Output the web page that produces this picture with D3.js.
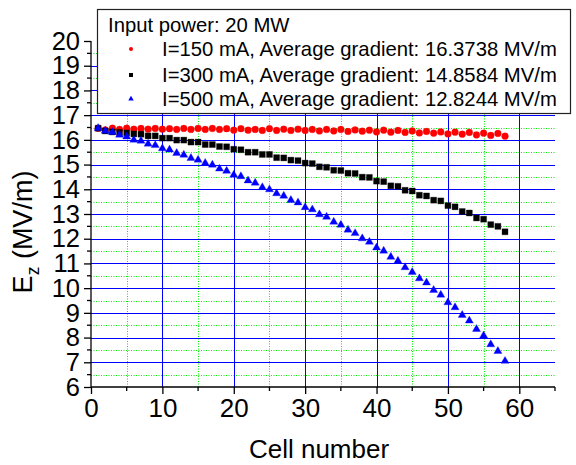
<!DOCTYPE html>
<html><head><meta charset="utf-8">
<script src="https://cdn.jsdelivr.net/npm/d3@7/dist/d3.min.js"></script>
<style>body{margin:0;background:#fff}svg{display:block}text{font-family:"Liberation Sans",Arial,sans-serif;fill:#000}</style>
</head><body><svg id="c" width="576" height="465"></svg>
<script>
const cells = [1,2,3,4,5,6,7,8,9,10,11,12,13,14,15,16,17,18,19,20,21,22,23,24,25,26,27,28,29,30,31,32,33,34,35,36,37,38,39,40,41,42,43,44,45,46,47,48,49,50,51,52,53,54,55,56,57,58];
const ez150 = [16.47,16.40,16.47,16.42,16.47,16.43,16.46,16.43,16.46,16.43,16.45,16.42,16.46,16.42,16.46,16.42,16.46,16.42,16.45,16.39,16.45,16.39,16.42,16.38,16.45,16.38,16.43,16.38,16.43,16.38,16.42,16.36,16.42,16.36,16.42,16.34,16.40,16.35,16.39,16.32,16.39,16.31,16.38,16.30,16.36,16.28,16.34,16.27,16.32,16.24,16.31,16.23,16.30,16.20,16.27,16.18,16.26,16.15];
const ez300 = [16.47,16.36,16.32,16.30,16.28,16.24,16.23,16.16,16.16,16.07,16.07,15.99,15.99,15.91,15.91,15.81,15.81,15.73,15.72,15.62,15.60,15.50,15.50,15.41,15.41,15.28,15.27,15.18,15.16,15.06,15.04,14.91,14.89,14.77,14.76,14.65,14.64,14.49,14.48,14.33,14.31,14.14,14.12,13.96,13.93,13.76,13.73,13.56,13.53,13.34,13.29,13.10,13.04,12.84,12.79,12.57,12.50,12.28];
const ez500 = [16.47,16.36,16.31,16.20,16.13,16.00,15.96,15.84,15.78,15.65,15.60,15.46,15.39,15.26,15.19,15.06,14.99,14.83,14.74,14.58,14.52,14.35,14.26,14.08,13.99,13.83,13.73,13.56,13.46,13.27,13.18,12.98,12.88,12.68,12.56,12.36,12.22,12.01,11.87,11.64,11.51,11.26,11.10,10.84,10.65,10.39,10.22,9.92,9.73,9.42,9.22,8.91,8.68,8.34,8.08,7.72,7.45,7.05];
const seriesLabels = ["I=150 mA, Average gradient: 16.3738 MV/m","I=300 mA, Average gradient: 14.8584 MV/m","I=500 mA, Average gradient: 12.8244 MV/m"];
const legendTitle = "Input power: 20 MW";
const xTicks = [0,10,20,30,40,50,60];
const yTicks = [6,7,8,9,10,11,12,13,14,15,16,17,18,19,20];
const xTitle = "Cell number";

const svg = d3.select("#c");
const x = d3.scaleLinear().domain([0,65]).range([91,555]);
const y = d3.scaleLinear().domain([6,20]).range([387,41]);

const grid = svg.append("g");
const xMinor = d3.range(5,65,10);
const yMinor = d3.range(6.5,20,1);
grid.selectAll(".vm").data(xMinor).join("line")
  .attr("x1",d=>Math.round(x(d))+0.5).attr("x2",d=>Math.round(x(d))+0.5)
  .attr("y1",y(6)).attr("y2",y(20))
  .attr("stroke","#00ee00").attr("stroke-width",1).attr("stroke-dasharray","1,1.5");
grid.selectAll(".hm").data(yMinor).join("line")
  .attr("y1",d=>Math.round(y(d))+0.5).attr("y2",d=>Math.round(y(d))+0.5)
  .attr("x1",x(0)).attr("x2",x(65))
  .attr("stroke","#00ee00").attr("stroke-width",1).attr("stroke-dasharray","1,1.5");
grid.selectAll(".vM").data(xTicks.filter(d=>d>0)).join("line")
  .attr("x1",d=>Math.round(x(d))+0.5).attr("x2",d=>Math.round(x(d))+0.5)
  .attr("y1",y(6)).attr("y2",y(20))
  .attr("stroke","#0000ff").attr("stroke-width",1);
grid.selectAll(".hM").data(yTicks.filter(d=>d>6 && d<20)).join("line")
  .attr("y1",d=>Math.round(y(d))+0.5).attr("y2",d=>Math.round(y(d))+0.5)
  .attr("x1",x(0)).attr("x2",x(65))
  .attr("stroke","#0000ff").attr("stroke-width",1);

// axes
const xAxis = d3.axisBottom(x).tickValues(xTicks).tickSize(7).tickPadding(5).tickFormat(d3.format("d"));
const gx = svg.append("g").attr("transform",`translate(0,${y(6)})`).call(xAxis);
gx.select(".domain").attr("d",`M${x(0)},0H${x(65)}`).attr("stroke","#000").attr("stroke-width",1.3);
gx.selectAll(".tick line").attr("stroke","#000").attr("stroke-width",1.3);
gx.selectAll("text").style("font-size","26px").attr("font-family",null);
const gxm = svg.append("g").attr("transform",`translate(0,${y(6)})`);
gxm.selectAll("line").data(d3.range(5,70,10)).join("line")
  .attr("x1",d=>x(d)).attr("x2",d=>x(d)).attr("y1",0).attr("y2",4).attr("stroke","#000").attr("stroke-width",1.3);

const yAxis = d3.axisLeft(y).tickValues(yTicks).tickSize(7).tickPadding(4).tickFormat(d3.format("d"));
const gy = svg.append("g").attr("transform",`translate(${x(0)},0)`).call(yAxis);
gy.select(".domain").attr("d",`M0,${y(6)}V${y(20)}`).attr("stroke","#000").attr("stroke-width",1.3);
gy.selectAll(".tick line").attr("stroke","#000").attr("stroke-width",1.3);
gy.selectAll("text").style("font-size","25.5px").attr("font-family",null);
const gym = svg.append("g").attr("transform",`translate(${x(0)},0)`);
gym.selectAll("line").data(yMinor).join("line")
  .attr("y1",d=>y(d)).attr("y2",d=>y(d)).attr("x1",-4).attr("x2",0).attr("stroke","#000").attr("stroke-width",1.3);

// data
const series = [
  {vals:ez150, type:d3.symbolCircle, size:36, color:"#ff0000", lsize:13},
  {vals:ez300, type:d3.symbolSquare, size:36, color:"#000000", lsize:16},
  {vals:ez500, type:d3.symbolTriangle, size:28, color:"#0000ff", lsize:13}
];
series.forEach(s=>{
  const sym = d3.symbol().type(s.type).size(s.size);
  svg.append("g").selectAll("path").data(cells).join("path")
    .attr("d",sym)
    .attr("transform",(c,i)=>`translate(${x(c)},${y(s.vals[i])})`)
    .attr("fill",s.color).attr("stroke",s.color).attr("stroke-opacity",0.5).attr("stroke-width",0.6);
});

// legend
const lg = svg.append("g");
lg.append("rect").attr("x",97.5).attr("y",9.5).attr("width",473).attr("height",104)
  .attr("fill","#fff").attr("stroke","#222").attr("stroke-width",1.2);
lg.append("text").attr("x",108).attr("y",32).style("font-size","20.3px").text(legendTitle);
const rowsY = [49,75,99];
series.forEach((s,i)=>{
  lg.append("path").attr("d",d3.symbol().type(s.type).size(s.lsize)())
    .attr("transform",`translate(131,${rowsY[i]})`).attr("fill",s.color);
  lg.append("text").attr("x",162).attr("y",rowsY[i]+7).style("font-size","20.3px").text(seriesLabels[i]);
});

// titles
svg.append("text").attr("x",(x(0)+x(65))/2 - 4).attr("y",458).attr("text-anchor","middle")
  .style("font-size","26px").text(xTitle);
const yt = svg.append("text").attr("transform","translate(32,232) rotate(-90)").attr("text-anchor","middle")
  .style("font-size","27px");
yt.append("tspan").text("E");
yt.append("tspan").attr("dy",7).style("font-size","17.5px").text("z");
yt.append("tspan").attr("dy",-7).text(" (MV/m)");
</script></body></html>
